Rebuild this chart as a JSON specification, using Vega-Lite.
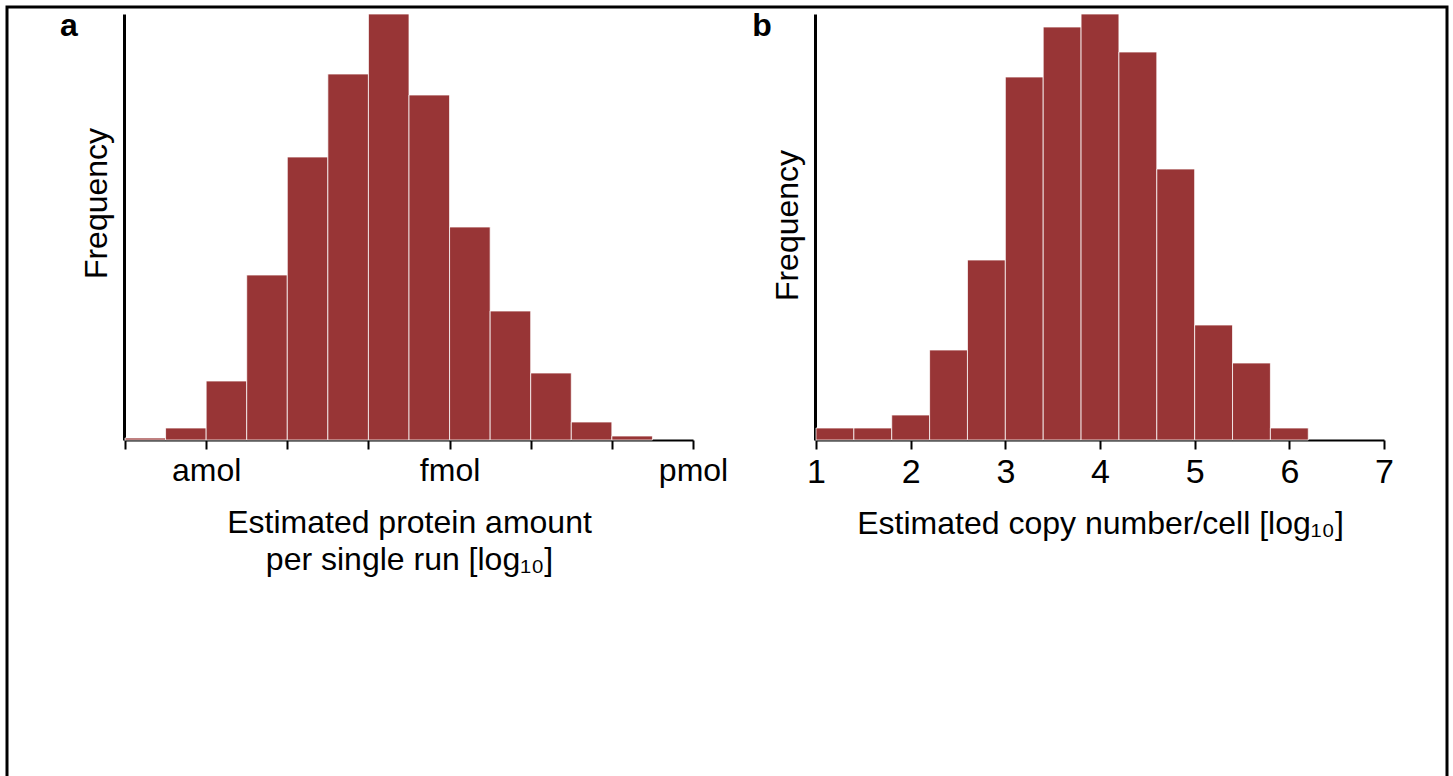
{
  "$schema": "https://vega.github.io/schema/vega-lite/v6.json",
  "width": 1440,
  "height": 769,
  "autosize": {"type": "none"},
  "padding": {"left": 7, "top": 7, "right": 6, "bottom": 0},
  "background": "white",
  "config": {
    "view": {"stroke": "black", "strokeWidth": 3, "strokeDash": [2209, 1440, 769]},
    "axis": {
      "grid": false,
      "domainColor": "black",
      "domainWidth": 2,
      "tickColor": "black",
      "tickWidth": 2,
      "labelFont": "Liberation Sans",
      "titleFont": "Liberation Sans",
      "labelColor": "black",
      "titleColor": "black",
      "labelFontSize": 32,
      "titleFontSize": 32,
      "titleFontWeight": "normal",
      "labelFlush": false,
      "labelOverlap": false,
      "labelBound": false
    },
    "text": {"font": "Liberation Sans"}
  },
  "datasets": {
    "protein": [
      {"bin_start": -19.0, "bin_end": -18.5, "count": 2},
      {"bin_start": -18.5, "bin_end": -18.0, "count": 12},
      {"bin_start": -18.0, "bin_end": -17.5, "count": 59},
      {"bin_start": -17.5, "bin_end": -17.0, "count": 165},
      {"bin_start": -17.0, "bin_end": -16.5, "count": 283},
      {"bin_start": -16.5, "bin_end": -16.0, "count": 366},
      {"bin_start": -16.0, "bin_end": -15.5, "count": 426},
      {"bin_start": -15.5, "bin_end": -15.0, "count": 345},
      {"bin_start": -15.0, "bin_end": -14.5, "count": 213},
      {"bin_start": -14.5, "bin_end": -14.0, "count": 129},
      {"bin_start": -14.0, "bin_end": -13.5, "count": 67},
      {"bin_start": -13.5, "bin_end": -13.0, "count": 18},
      {"bin_start": -13.0, "bin_end": -12.5, "count": 4}
    ],
    "copies": [
      {"bin_start": 1.0, "bin_end": 1.4, "count": 12},
      {"bin_start": 1.4, "bin_end": 1.8, "count": 12},
      {"bin_start": 1.8, "bin_end": 2.2, "count": 25},
      {"bin_start": 2.2, "bin_end": 2.6, "count": 90},
      {"bin_start": 2.6, "bin_end": 3.0, "count": 180},
      {"bin_start": 3.0, "bin_end": 3.4, "count": 363},
      {"bin_start": 3.4, "bin_end": 3.8, "count": 413},
      {"bin_start": 3.8, "bin_end": 4.2, "count": 426},
      {"bin_start": 4.2, "bin_end": 4.6, "count": 388},
      {"bin_start": 4.6, "bin_end": 5.0, "count": 271},
      {"bin_start": 5.0, "bin_end": 5.4, "count": 115},
      {"bin_start": 5.4, "bin_end": 5.8, "count": 77},
      {"bin_start": 5.8, "bin_end": 6.2, "count": 12}
    ]
  },
  "layer": [
    {
      "layer": [
        {
          "data": {"name": "protein"},
          "mark": {"type": "rect", "color": "#983536", "stroke": "white", "strokeWidth": 1, "strokeOpacity": 0.75},
          "encoding": {
            "x": {
              "field": "bin_start",
              "type": "quantitative",
              "scale": {"domain": [-19, -12], "range": [118, 686], "nice": false, "zero": false},
              "axis": {
                "orient": "bottom",
                "offset": -336,
                "values": [-19, -18, -17, -16, -15, -14, -13, -12],
                "labelExpr": "datum.value == -18 ? 'amol' : datum.value == -15 ? 'fmol' : datum.value == -12 ? 'pmol' : ''",
                "tickSize": 9,
                "labelPadding": 6,
                "title": ["Estimated protein amount", "per single run [log₁₀]"],
                "titleLineHeight": 37,
                "titlePadding": 21
              }
            },
            "x2": {"field": "bin_end"},
            "y": {
              "field": "count",
              "type": "quantitative",
              "scale": {"domain": [0, 426], "range": [433, 7], "nice": false, "zero": false},
              "axis": {
                "orient": "left",
                "offset": -117,
                "domainWidth": 3,
                "labels": false,
                "ticks": false,
                "title": "Frequency",
                "titlePadding": 11,
                "titleY": 196
              }
            },
            "y2": {"datum": 0}
          }
        },
        {
          "data": {"values": [{"panel": "a"}]},
          "mark": {"type": "text", "fontSize": 32, "fontWeight": "bold", "align": "center", "baseline": "alphabetic", "color": "black"},
          "encoding": {
            "x": {"datum": -19.69},
            "y": {"datum": 404},
            "text": {"field": "panel"}
          }
        }
      ]
    },
    {
      "layer": [
        {
          "data": {"name": "copies"},
          "mark": {"type": "rect", "color": "#983536", "stroke": "white", "strokeWidth": 1, "strokeOpacity": 0.75},
          "encoding": {
            "x": {
              "field": "bin_start",
              "type": "quantitative",
              "scale": {"domain": [1, 7], "range": [809, 1377], "nice": false, "zero": false},
              "axis": {
                "orient": "bottom",
                "offset": -336,
                "values": [1, 2, 3, 4, 5, 6, 7],
                "format": "d",
                "tickSize": 9,
                "labelPadding": 6,
                "labelFontSize": 34,
                "title": "Estimated copy number/cell [log₁₀]",
                "titlePadding": 19
              }
            },
            "x2": {"field": "bin_end"},
            "y": {
              "field": "count",
              "type": "quantitative",
              "scale": {"domain": [0, 426], "range": [433, 7], "nice": false, "zero": false},
              "axis": {
                "orient": "left",
                "offset": -808,
                "domainWidth": 3,
                "labels": false,
                "ticks": false,
                "title": "Frequency",
                "titlePadding": 11,
                "titleY": 218
              }
            },
            "y2": {"datum": 0}
          }
        },
        {
          "data": {"values": [{"panel": "b"}]},
          "mark": {"type": "text", "fontSize": 32, "fontWeight": "bold", "align": "center", "baseline": "alphabetic", "color": "black"},
          "encoding": {
            "x": {"datum": 0.43},
            "y": {"datum": 404},
            "text": {"field": "panel"}
          }
        }
      ]
    }
  ],
  "resolve": {"scale": {"x": "independent", "y": "independent"}}
}
